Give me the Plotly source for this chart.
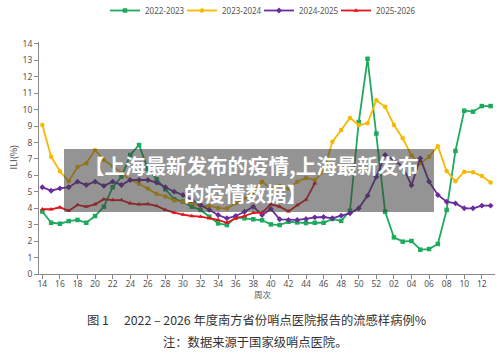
import plotly.graph_objects as go

# ---- data ----
weeks = [str(w) for w in range(14, 53)] + ["%02d" % w for w in range(1, 14)]

s2022_2023 = [3.80, 3.12, 3.06, 3.22, 3.29, 3.12, 3.53, 4.10, 5.28, 5.92,
              7.24, 7.85, 6.40, 5.76, 5.15, 4.55, 4.40, 4.10, 3.90, 3.49,
              3.08, 2.98, 3.45, 3.39, 3.33, 3.27, 3.02, 2.98, 3.18, 3.14,
              3.10, 3.12, 3.12, 3.35, 3.23, 3.85, 9.25, 13.10, 8.55, 3.79,
              2.23, 1.97, 2.01, 1.48, 1.52, 1.83, 3.90, 7.49, 9.94, 9.88,
              10.22, 10.22]
s2023_2024 = [9.07, 7.14, 6.25, 5.64, 6.51, 6.74, 7.55, 6.94, 6.57, 6.15,
              5.72, 5.49, 5.21, 4.88, 4.72, 4.47, 4.40, 4.30, 4.14, 4.14,
              4.02, 3.98, 4.30, 4.60, 5.00, 5.62, 5.20, 5.35, 5.20, 5.62,
              5.85, 5.72, 6.25, 8.05, 8.76, 9.50, 9.07, 9.17, 10.57, 10.18,
              9.07, 8.26, 7.22, 6.72, 7.14, 7.77, 6.27, 5.64, 6.23, 6.19,
              5.96, 5.57]
s2024_2025 = [5.28, 5.07, 5.21, 5.28, 5.62, 5.42, 5.62, 5.36, 5.62, 5.42,
              5.72, 5.72, 5.72, 5.56, 5.28, 5.01, 4.81, 4.50, 4.20, 3.90,
              3.59, 3.39, 3.53, 3.79, 4.10, 3.59, 3.96, 3.33, 3.29, 3.29,
              3.35, 3.45, 3.47, 3.39, 3.55, 3.69, 4.00, 4.77, 5.92, 7.24,
              6.94, 6.53, 5.40, 7.04, 5.62, 4.81, 4.40, 4.30, 4.00, 4.00,
              4.16, 4.16]
s2025_2026 = [3.94, 3.94, 4.06, 3.85, 4.20, 4.10, 4.24, 4.55, 4.50, 4.50,
              4.30, 4.24, 4.26, 4.14, 3.90, 3.73, 3.62, 3.53, 3.49, 3.39,
              3.29, 3.12, 3.39, 3.53, 3.72, 3.74, 4.24, 4.10, 3.81, 4.19,
              4.52, 5.52]

series_names = ["2022-2023", "2023-2024", "2024-2025", "2025-2026"]
y_ticks = list(range(0, 15))
tick_idx = list(range(0, 52, 2))
tick_text = [weeks[i] for i in tick_idx]

overlay_line1 = "【上海最新发布的疫情,上海最新发布"
overlay_line2 = "的疫情数据】"
caption1 = "图 1\u3000 2022 – 2026 年度南方省份哨点医院报告的流感样病例%"
caption2 = "注：数据来源于国家级哨点医院。"
x_title = "周次"
y_title = "ILI(%)"

# ---- styles ----
colors = ["#1daa5c", "#f7b900", "#6a2c9e", "#e4141b"]
symbols = ["square", "circle", "diamond", "triangle-up"]
legend_widths = [32, 32, 32, 46]
all_series = [s2022_2023, s2023_2024, s2024_2025, s2025_2026]

fig = go.Figure()
for name, vals, c, sym, lw in zip(series_names, all_series, colors, symbols, legend_widths):
    fig.add_trace(go.Scatter(
        x=list(range(len(vals))), y=vals, name=name, mode="lines+markers",
        line=dict(color=c, width=1.8),
        marker=dict(symbol=sym, size=4.5, color=c),
        legendwidth=lw,
    ))

L, R, T, B = 39, 5, 42, 87
W, H = 500, 361
pw, ph = W - L - R, H - T - B


def px(x):
    return (x - L) / pw


def py(y):
    return (H - B - y) / ph


axis_color = "#8a8a8a"
fig.update_layout(
    width=W, height=H,
    margin=dict(l=L, r=R, t=T, b=B, pad=0, autoexpand=False),
    paper_bgcolor="white", plot_bgcolor="white",
    font=dict(family="Noto Sans CJK SC, Noto Sans, sans-serif", color="#555555"),
    showlegend=True,
    legend=dict(orientation="h", xref="container", yref="container",
                x=266 / W, xanchor="center", y=1 - 10.5 / H, yanchor="middle",
                font=dict(size=8, color="#555555", family="Noto Sans"), itemwidth=30,
                bgcolor="rgba(0,0,0,0)", tracegroupgap=0),
    xaxis=dict(range=[-0.38, 51.5], tickmode="array", tickvals=tick_idx, ticktext=tick_text,
               showgrid=False, zeroline=False, showline=True, linecolor=axis_color,
               linewidth=1, ticks="outside", ticklen=4, tickcolor=axis_color,
               ticklabelstandoff=-2,
               tickfont=dict(size=8.5, color="#555555", family="Noto Sans")),
    yaxis=dict(range=[0, 14.12], tickmode="array", tickvals=y_ticks,
               showgrid=False, zeroline=False, showline=True, linecolor=axis_color,
               linewidth=1, ticks="outside", ticklen=4, tickcolor=axis_color,
               tickfont=dict(size=8.5, color="#555555", family="Noto Sans")),
)

fig.add_shape(type="rect", xref="paper", yref="paper",
              x0=px(64), x1=px(434), y0=py(212), y1=py(149),
              fillcolor="rgba(60,60,60,0.55)", line=dict(width=0), layer="above")

fig.add_annotation(text="<b>" + overlay_line1 + "</b>", xref="paper", yref="paper",
                   x=px(251), y=py(165), showarrow=False, xanchor="center", yanchor="middle",
                   font=dict(size=20.5, color="white", family="Noto Sans CJK SC"))
fig.add_annotation(text="<b>" + overlay_line2 + "</b>", xref="paper", yref="paper",
                   x=px(245), y=py(192.5), showarrow=False, xanchor="center", yanchor="middle",
                   font=dict(size=20.5, color="white", family="Noto Sans CJK SC"))

fig.add_annotation(text=x_title, xref="paper", yref="paper", x=px(262.5), y=py(301.5),
                   showarrow=False, font=dict(size=8.5, color="#555555"))
fig.add_annotation(text=y_title, xref="paper", yref="paper", x=px(4), y=py(157),
                   showarrow=False, textangle=-90, font=dict(size=9, color="#444444"))
fig.add_annotation(text=caption1, xref="paper", yref="paper", x=px(256), y=py(331),
                   showarrow=False, font=dict(size=12.3, color="#333333"))
fig.add_annotation(text=caption2, xref="paper", yref="paper", x=px(255), y=py(352.5),
                   showarrow=False, font=dict(size=12.3, color="#333333"))

fig.write_html("out.html", config={"displayModeBar": False},
               post_script="document.body.style.margin='0';")
